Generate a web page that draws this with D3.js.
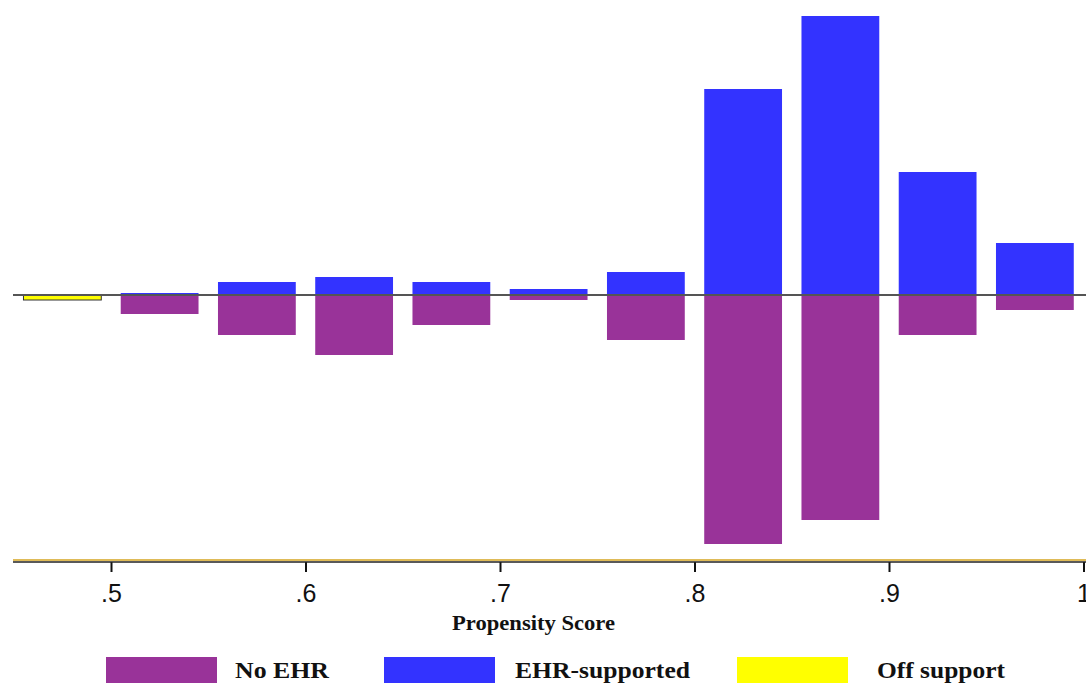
<!DOCTYPE html>
<html>
<head>
<meta charset="utf-8">
<script src="https://cdn.jsdelivr.net/npm/d3@7"></script>
<style>
  body { margin: 0; background: #fff; }
  .tick text { font-family: "Liberation Sans", Arial, sans-serif; font-size: 25px; fill: #111; }
  .lab { font-family: "Liberation Serif", "Times New Roman", serif; font-weight: bold; fill: #111; }
</style>
</head>
<body>
<svg id="chart" width="1086" height="683"></svg>
<script>
// bins (lower edge) of the propensity score, width .05
var bins = [0.45, 0.50, 0.55, 0.60, 0.65, 0.70, 0.75, 0.80, 0.85, 0.90, 0.95];
// treated group, drawn above zero
var ehrSupported = [0, 0.2, 1.3, 1.8, 1.3, 0.6, 2.3, 20.6, 27.9, 12.3, 5.2];
// untreated group, drawn below zero
var noEhr = [0, 1.9, 4.0, 6.0, 3.0, 0.5, 4.5, 24.9, 22.5, 4.0, 1.5];
// off support (untreated), below zero
var offSupport = [0.5, 0, 0, 0, 0, 0, 0, 0, 0, 0, 0];
var tickValues = [0.5, 0.6, 0.7, 0.8, 0.9, 1.0];
var legendLabels = ["No EHR", "EHR-supported", "Off support"];

var colors = { noEhr: "#993399", ehr: "#3333ff", off: "#ffff00" };

var svg = d3.select("#chart");

var x = d3.scaleLinear().domain([0.45, 1.0]).range([13.75, 1083.5]);
var y = d3.scaleLinear().domain([-26.7, 29.5]).range([562, 0]);

var data = bins.map(function (b, i) {
  return { bin: b, ehr: ehrSupported[i], no: noEhr[i], off: offSupport[i] };
});

// bars are .04 wide, centred in the .05 bin
function bx(d) { return x(d.bin + 0.005); }
var bw = x(0.49) - x(0.45);

var g = svg.append("g");

// No EHR (below zero)
g.selectAll(".no")
  .data(data.filter(function (d) { return d.no > 0; }))
  .enter().append("rect")
  .attr("x", bx)
  .attr("y", y(0))
  .attr("width", bw)
  .attr("height", function (d) { return y(-d.no) - y(0); })
  .attr("fill", colors.noEhr);

// EHR-supported (above zero)
g.selectAll(".ehr")
  .data(data.filter(function (d) { return d.ehr > 0; }))
  .enter().append("rect")
  .attr("x", bx)
  .attr("y", function (d) { return y(d.ehr); })
  .attr("width", bw)
  .attr("height", function (d) { return y(0) - y(d.ehr); })
  .attr("fill", colors.ehr);

// Off support
g.selectAll(".off")
  .data(data.filter(function (d) { return d.off > 0; }))
  .enter().append("rect")
  .attr("x", bx)
  .attr("y", y(0))
  .attr("width", bw)
  .attr("height", function (d) { return y(-d.off) - y(0); })
  .attr("fill", colors.off)
  .attr("stroke", "#333")
  .attr("stroke-width", 1);

// zero line
g.append("line")
  .attr("x1", 13).attr("x2", 1086)
  .attr("y1", y(0)).attr("y2", y(0))
  .attr("stroke", "#555")
  .attr("stroke-width", 2);

// x axis
var axis = svg.append("g")
  .attr("transform", "translate(0," + 562 + ")")
  .call(d3.axisBottom(x)
    .tickValues(tickValues)
    .tickSize(10)
    .tickPadding(12)
    .tickFormat(function (d) { return d === 1 ? "1" : d3.format(".1f")(d).replace("0.", "."); }));

axis.select(".domain").remove();
axis.selectAll(".tick line").attr("stroke", "#111").attr("stroke-width", 2);

svg.append("line")
  .attr("x1", 13).attr("x2", 1086)
  .attr("y1", 560).attr("y2", 560)
  .attr("stroke", "#d4a520").attr("stroke-width", 1.5);
svg.append("line")
  .attr("x1", 13).attr("x2", 1086)
  .attr("y1", 562).attr("y2", 562)
  .attr("stroke", "#222").attr("stroke-width", 1.5);

svg.append("text")
  .attr("class", "lab")
  .attr("x", 452)
  .attr("y", 630)
  .attr("font-size", 20)
  .attr("textLength", 163)
  .attr("lengthAdjust", "spacingAndGlyphs")
  .text("Propensity Score");

// legend
var legendPos = [
  { sx: 106, tx: 235, tw: 94, c: colors.noEhr },
  { sx: 384, tx: 515, tw: 175, c: colors.ehr },
  { sx: 737, tx: 877, tw: 128, c: colors.off }
];

var leg = svg.selectAll(".leg")
  .data(legendLabels)
  .enter().append("g");

leg.append("rect")
  .attr("x", function (d, i) { return legendPos[i].sx; })
  .attr("y", 657)
  .attr("width", 111)
  .attr("height", 30)
  .attr("fill", function (d, i) { return legendPos[i].c; });

leg.append("text")
  .attr("class", "lab")
  .attr("x", function (d, i) { return legendPos[i].tx; })
  .attr("y", 678)
  .attr("font-size", 23)
  .attr("textLength", function (d, i) { return legendPos[i].tw; })
  .attr("lengthAdjust", "spacingAndGlyphs")
  .text(function (d) { return d; });
</script>
</body>
</html>
